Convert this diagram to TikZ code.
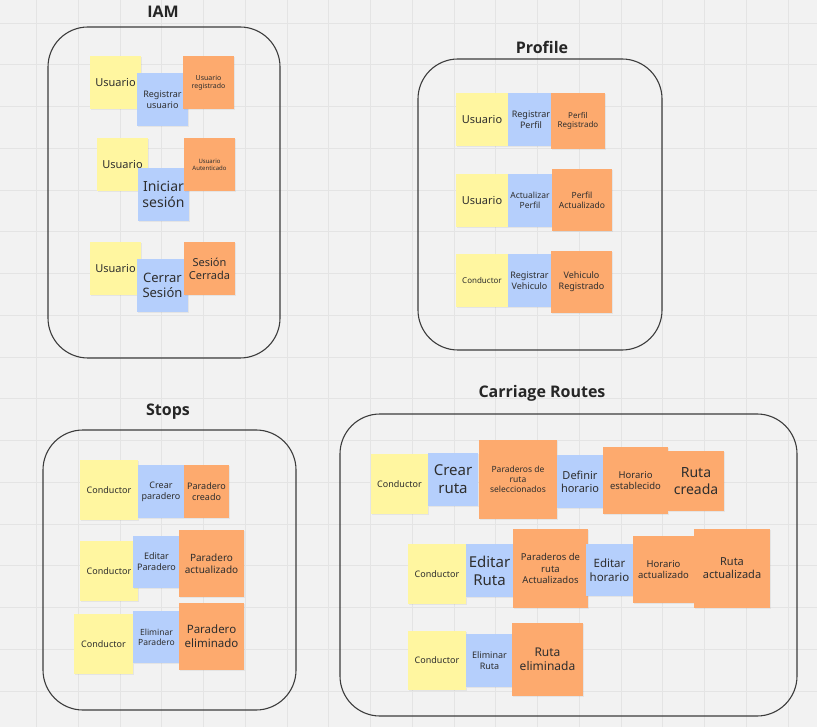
\documentclass[tikz,border=0pt]{standalone}
\usepackage{fontspec}
\setmainfont{Noto Sans}
\newfontfamily\ttlfont{Open Sans}[BoldFont={* Bold}]
\usetikzlibrary{shadows}
\definecolor{bgc}{HTML}{F2F2F2}
\definecolor{gridc}{HTML}{E4E4E4}
\definecolor{ylwc}{HTML}{FFF6A0}
\definecolor{bluc}{HTML}{B5CFFC}
\definecolor{orgc}{HTML}{FDAA6E}
\definecolor{txtc}{HTML}{2E2E2E}
\definecolor{framec}{HTML}{3C3C3C}
\tikzset{
  gridline/.style={draw=gridc, line width=0.9pt},
  note/.style={rectangle, inner sep=0pt, align=center, text=txtc,
     drop shadow={opacity=0.12, shadow xshift=0.6pt, shadow yshift=-1.2pt}},
  ylw/.style={note, fill=ylwc},
  blu/.style={note, fill=bluc},
  org/.style={note, fill=orgc},
  frame/.style={rectangle, draw=framec, line width=1.1pt, rounded corners=40pt, inner sep=0pt},
  title/.style={font=\ttlfont\fontsize{16}{18}\selectfont\bfseries, text=black!85}
}
% \stk{style}{name}{x1}{y1}{x2}{y2}{size}{text}
\newcommand\stk[8]{\node[#1, minimum width={(#5-#3)*1pt}, minimum height={(#6-#4)*1pt},
  font=\fontsize{#7pt}{\dimexpr #7pt*12/10\relax}\selectfont] (#2) at ({(#3+#5)/2},{(#4+#6)/2}) {#8};}
\begin{document}
\begin{tikzpicture}[x=1pt,y=-1pt]
\fill[bgc] (0,0) rectangle (817,727);
\useasboundingbox (0,0) rectangle (817,727);
\foreach \i in {0,...,18} \draw[gridline] ({36.5+41.75*\i},0) -- ({36.5+41.75*\i},727);
\foreach \j in {0,...,16} \draw[gridline] (0,{23+41.75*\j}) -- (817,{23+41.75*\j});

% ---------- IAM ----------
\node[frame, minimum width=232pt, minimum height=331pt] (fIAM) at (164,192.5) {};
\node[title] (tIAM) at (163,12) {IAM};
\stk{ylw}{i1a}{90}{56}{141}{109}{11}{Usuario}
\stk{blu}{i1b}{137}{73}{188}{126}{9}{Registrar\\usuario}
\stk{org}{i1c}{183}{56}{234}{109}{7}{Usuario\\registrado}
\stk{ylw}{i2a}{97}{138}{148}{191}{11}{Usuario}
\stk{blu}{i2b}{138}{168}{189}{221}{14}{Iniciar\\sesión}
\stk{org}{i2c}{184}{138}{235}{191}{6}{Usuario\\Autenticado}
\stk{ylw}{i3a}{90}{242}{141}{295}{11}{Usuario}
\stk{blu}{i3b}{137}{259}{188}{312}{13}{Cerrar\\Sesión}
\stk{org}{i3c}{184}{242}{235}{295}{11}{Sesión\\Cerrada}

% ---------- Profile ----------
\node[frame, minimum width=244pt, minimum height=291pt] (fPro) at (540,204.5) {};
\node[title] (tPro) at (542,47) {Profile};
\stk{ylw}{p1a}{456}{93}{508}{146}{11}{Usuario}
\stk{blu}{p1b}{508}{93}{554}{146}{9}{Registrar\\Perfil}
\stk{org}{p1c}{551}{93}{605}{149}{8}{Perfil\\Registrado}
\stk{ylw}{p2a}{456}{174}{508}{227}{11}{Usuario}
\stk{blu}{p2b}{508}{174}{552}{227}{8.5}{Actualizar\\Perfil}
\stk{org}{p2c}{552}{169}{612}{231}{8.5}{Perfil\\Actualizado}
\stk{ylw}{p3a}{456}{254}{508}{307}{8}{Conductor}
\stk{blu}{p3b}{508}{254}{551}{307}{9}{Registrar\\Vehiculo}
\stk{org}{p3c}{551}{251}{612}{313}{9}{Vehiculo\\Registrado}

% ---------- Stops ----------
\node[frame, minimum width=253pt, minimum height=280pt] (fSto) at (169.5,570) {};
\node[title] (tSto) at (168,412) {Stops};
\stk{ylw}{s1a}{80}{460}{138}{520}{9}{Conductor}
\stk{blu}{s1b}{138}{465}{184}{518}{9}{Crear\\paradero}
\stk{org}{s1c}{184}{465}{229}{518}{9}{Paradero\\creado}
\stk{ylw}{s2a}{80}{541}{138}{601}{9}{Conductor}
\stk{blu}{s2b}{133}{536}{180}{588}{9}{Editar\\Paradero}
\stk{org}{s2c}{179}{530}{244}{597}{10}{Paradero\\actualizado}
\stk{ylw}{s3a}{74}{614}{133}{674}{9}{Conductor}
\stk{blu}{s3b}{133}{611}{180}{663}{8.5}{Eliminar\\Paradero}
\stk{org}{s3c}{179}{603}{244}{670}{11.5}{Paradero\\eliminado}

% ---------- Carriage Routes ----------
\node[frame, minimum width=457pt, minimum height=302pt] (fCar) at (568.5,565) {};
\node[title] (tCar) at (542,393) {Carriage Routes};
\stk{ylw}{c1a}{371}{454}{428}{514}{9}{Conductor}
\stk{blu}{c1b}{428}{453}{478}{506}{15}{Crear\\ruta}
\stk{org}{c1c}{479}{440}{557}{519}{8.5}{Paraderos de\\ruta\\seleccionados}
\stk{blu}{c1d}{557}{455}{603}{508}{11}{Definir\\horario}
\stk{org}{c1e}{603}{447}{668}{514}{9.5}{Horario\\establecido}
\stk{org}{c1f}{668}{451}{724}{511}{14}{Ruta\\creada}
\stk{ylw}{c2a}{408}{544}{466}{604}{9}{Conductor}
\stk{blu}{c2b}{466}{544}{513}{597}{15}{Editar\\Ruta}
\stk{org}{c2c}{513}{529}{588}{608}{9.5}{Paraderos de\\ruta\\Actualizados}
\stk{blu}{c2d}{586}{544}{633}{596}{11.5}{Editar\\horario}
\stk{org}{c2e}{633}{536}{694}{603}{9.5}{Horario\\actualizado}
\stk{org}{c2f}{694}{529}{770}{608}{11}{Ruta\\actualizada}
\stk{ylw}{c3a}{408}{631}{466}{690}{9}{Conductor}
\stk{blu}{c3b}{466}{634}{513}{687}{9}{Eliminar\\Ruta}
\stk{org}{c3c}{512}{623}{583}{696}{12}{Ruta\\eliminada}
\end{tikzpicture}
\end{document}
